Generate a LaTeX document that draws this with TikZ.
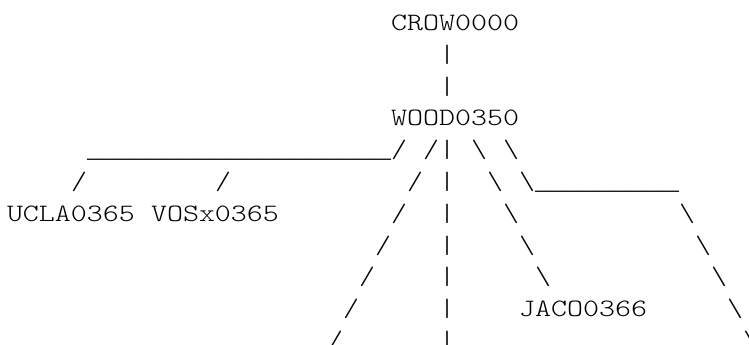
\documentclass[tikz,border=0pt]{standalone}
\usepackage{fontspec}
\newfontfamily\asciifont{lmmonolt10-regular.otf}[FakeStretch=1.219]
\newfontfamily\barfont{Liberation Mono}
\tikzset{
  ch/.style={anchor=base west, inner sep=0pt, outer sep=0pt,
    font=\asciifont\fontsize{25}{30}\selectfont, text=black},
}
\newcommand{\bs}{\textbackslash}
\newcommand{\usrun}[1]{{\barfont\fontsize{26.67}{32}\selectfont\foreach\k in {1,...,#1}{\_}}}
\begin{document}
\begin{tikzpicture}
\useasboundingbox (0pt,0pt) rectangle (749pt,345pt);
\begin{scope}[shift={(7pt,314.5pt)}, x=16pt, y=-31.8pt]
% row 0-3: root and first link
\node[ch] (crow) at (24,0) {CROW0000};
\node[ch] (v1) at (27,1) {|};
\node[ch] (v2) at (27,2) {|};
\node[ch] (wood) at (24,3) {WOOD0350};
% row 4
\node[ch] (u4) at (5,4) {\usrun{19}};
\node[ch] (r4) at (24,4) {/~/|~\bs~\bs};
% row 5
\node[ch] (a5) at (4,5) {/};
\node[ch] (b5) at (13,5) {/};
\node[ch] (c5) at (25,5) {/};
\node[ch] (d5) at (27,5) {|};
\node[ch] (e5) at (30,5) {\bs};
\node[ch] (f5) at (32,5) {\bs};
\node[ch] (u5) at (33,5) {\usrun{9}};
% row 6
\node[ch] (ucla) at (0,6) {UCLA0365};
\node[ch] (vosx) at (9,6) {VOSx0365};
\node[ch] (c6) at (24,6) {/};
\node[ch] (d6) at (27,6) {|};
\node[ch] (e6) at (31,6) {\bs};
\node[ch] (f6) at (42,6) {\bs};
% row 7
\node[ch] (c7) at (23,7) {/};
\node[ch] (d7) at (27,7) {|};
\node[ch] (e7) at (32,7) {\bs};
\node[ch] (f7) at (43,7) {\bs};
% row 8
\node[ch] (c8) at (22,8) {/};
\node[ch] (d8) at (27,8) {|};
\node[ch] (e8) at (33,8) {\bs};
\node[ch] (f8) at (44,8) {\bs};
% row 9
\node[ch] (c9) at (21,9) {/};
\node[ch] (d9) at (27,9) {|};
\node[ch] (jaco) at (32,9) {JACO0366};
\node[ch] (f9) at (45,9) {\bs};
% row 10
\node[ch] (c10) at (20,10) {/};
\node[ch] (d10) at (27,10) {|};
\node[ch] (f10) at (46,10) {\bs};
\end{scope}
\end{tikzpicture}
\end{document}
